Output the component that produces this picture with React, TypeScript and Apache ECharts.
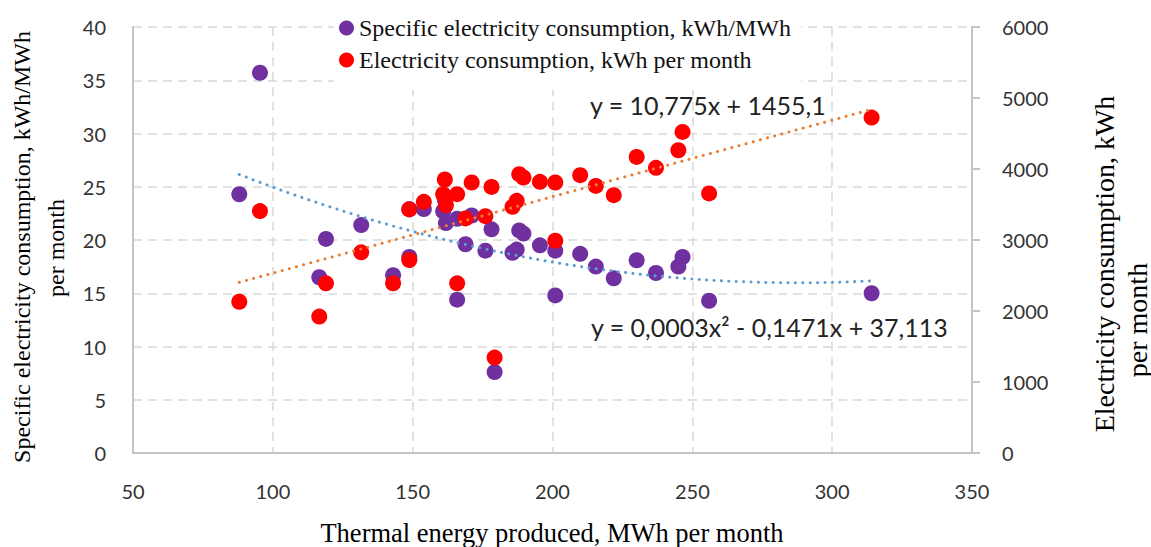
import { useEffect, useRef } from "react";
import * as echarts from "echarts";

// Monthly observations: thermal energy produced (MWh), specific and total electricity use
const thermalEnergy = [
  88.0, 95.4, 116.6, 119.0, 131.6, 143.0, 148.8, 148.8, 154.0, 160.9, 161.5, 161.9,
  165.9, 165.9, 168.9, 171.1, 176.0, 178.2, 179.3, 185.7, 187.2, 188.1, 189.6, 195.5,
  201.0, 201.0, 209.9, 215.5, 221.9, 230.1, 237.0, 245.0, 246.5, 256.0, 314.1,
];
const specificConsumption = [
  24.3, 35.7, 16.5, 20.1, 21.4, 16.7, 18.4, 22.9, 22.9, 22.7, 23.8, 21.6,
  22.0, 14.4, 19.6, 22.3, 19.0, 21.0, 7.6, 18.8, 19.1, 20.9, 20.6, 19.5,
  19.0, 14.8, 18.7, 17.5, 16.4, 18.1, 16.9, 17.5, 18.4, 14.3, 15.0,
];
const electricityConsumption = [
  2131, 3407, 1921, 2390, 2826, 2390, 2718, 3431, 3537, 3646, 3852, 3491,
  3646, 2390, 3304, 3810, 3336, 3748, 1344, 3467, 3552, 3927, 3881, 3819,
  3810, 2989, 3913, 3762, 3632, 4170, 4016, 4264, 4522, 3656, 4724,
];

// Trend lines fitted over the observed range
const trendRange = [88, 314];
const linearCoef = [10.775, 1455.1]; // slope, intercept
const quadCoef = [0.000256, -0.1471, 37.113]; // x², x, constant

const seriesNames = [
  "Specific electricity consumption, kWh/MWh",
  "Electricity consumption, kWh per month",
];

const SERIF = "'Liberation Serif', 'Times New Roman', serif";
const SANS = "Lato, 'Open Sans', sans-serif";

const fmt = (v: number, d: number) => v.toFixed(d).replace(".", ",");

export default function App() {
  const ref = useRef<HTMLDivElement>(null);

  useEffect(() => {
    if (!ref.current) return;
    const chart = echarts.init(ref.current, undefined, { renderer: "svg" });

    const specificPts = thermalEnergy.map((x, i) => [x, specificConsumption[i]]);
    const electricPts = thermalEnergy.map((x, i) => [x, electricityConsumption[i]]);

    const linearPts = trendRange.map((x) => [x, linearCoef[0] * x + linearCoef[1]]);
    const quadPts: number[][] = [];
    for (let x = trendRange[0]; x <= trendRange[1]; x += 2) {
      quadPts.push([x, quadCoef[0] * x * x + quadCoef[1] * x + quadCoef[2]]);
    }

    const linearLabel = `y = ${fmt(linearCoef[0], 3)}x + ${fmt(linearCoef[1], 1)}`;
    const quadLabel = `y = ${fmt(quadCoef[0], 4)}x² - ${fmt(-quadCoef[1], 4)}x + ${fmt(quadCoef[2], 3)}`;

    const gridLine = { show: true, lineStyle: { color: "#d9d9d9", width: 1.5, type: [9, 6] } };
    const axisLine = { show: true, lineStyle: { color: "#c4c4c4", width: 2 } };
    const tickLabel = {
      fontFamily: SANS,
      fontSize: 20,
      color: "#333",
      formatter: (v: number) => String(v),
    };

    const titleText = (
      text: string,
      x: number,
      y: number,
      size: number,
      rotate: boolean
    ) => ({
      type: "text",
      x,
      y,
      rotation: rotate ? Math.PI / 2 : 0,
      z: 100,
      style: {
        text,
        x: 0,
        y: 0,
        align: "center",
        verticalAlign: "middle",
        textAlign: "center",
        textVerticalAlign: "middle",
        fontFamily: SERIF,
        fontSize: size,
        fill: "#000",
      },
    });

    const eqText = (text: string, x: number, y: number) => ({
      type: "text",
      x,
      y,
      z: 100,
      style: {
        text,
        x: 0,
        y: 0,
        align: "left",
        verticalAlign: "middle",
        textAlign: "left",
        textVerticalAlign: "middle",
        fontFamily: SANS,
        fontSize: 25,
        fill: "#222",
      },
    });

    chart.setOption({
      animation: false,
      backgroundColor: "#fff",
      grid: { left: 133, right: 179, top: 27, bottom: 94 },
      legend: {
        data: seriesNames,
        orient: "vertical",
        left: 334,
        top: 12,
        padding: [4, 10, 18, 5],
        itemGap: 8,
        itemWidth: 15,
        itemHeight: 15,
        icon: "circle",
        backgroundColor: "#fff",
        textStyle: { fontFamily: SERIF, fontSize: 24, color: "#111", lineHeight: 24 },
      },
      xAxis: {
        type: "value",
        min: 50,
        max: 350,
        interval: 50,
        axisLine,
        axisTick: { show: false },
        splitLine: gridLine,
        axisLabel: { ...tickLabel, margin: 28 },
      },
      yAxis: [
        {
          type: "value",
          position: "left",
          min: 0,
          max: 40,
          interval: 5,
          axisLine,
          axisTick: { show: false },
          splitLine: gridLine,
          axisLabel: { ...tickLabel, margin: 27 },
        },
        {
          type: "value",
          position: "right",
          min: 0,
          max: 6000,
          interval: 1000,
          axisLine,
          axisTick: { show: true, length: 8, lineStyle: { color: "#c4c4c4", width: 2 } },
          splitLine: { show: false },
          axisLabel: { ...tickLabel, margin: 30 },
        },
      ],
      series: [
        {
          name: seriesNames[0],
          type: "scatter",
          yAxisIndex: 0,
          symbolSize: 16,
          itemStyle: { color: "#7030A0", opacity: 1 },
          data: specificPts,
        },
        {
          name: seriesNames[1],
          type: "scatter",
          yAxisIndex: 1,
          symbolSize: 16,
          itemStyle: { color: "#FF0000", opacity: 1 },
          data: electricPts,
        },
        {
          name: "Poly. trend",
          type: "line",
          yAxisIndex: 0,
          showSymbol: false,
          symbol: "none",
          silent: true,
          lineStyle: { color: "#5B9BD5", width: 3, type: [0.1, 7.3], cap: "round" },
          data: quadPts,
        },
        {
          name: "Linear trend",
          type: "line",
          yAxisIndex: 1,
          showSymbol: false,
          symbol: "none",
          silent: true,
          lineStyle: { color: "#ED7D31", width: 3, type: [0.1, 7.3], cap: "round" },
          data: linearPts,
        },
      ],
      graphic: [
        titleText("Specific electricity consumption, kWh/MWh", 22, 247, 24, true),
        titleText("per month", 56, 248, 24, true),
        titleText("Electricity consumption, kWh", 1104, 264, 28, true),
        titleText("per month", 1137, 320, 28, true),
        titleText("Thermal energy produced, MWh per month", 552, 533, 26.5, false),
        eqText(linearLabel, 590, 105),
        eqText(quadLabel, 591, 327),
      ],
    });

    return () => chart.dispose();
  }, []);

  return (
    <div
      ref={ref}
      style={{ position: "absolute", left: 0, top: 0, width: 1151, height: 547 }}
    />
  );
}
